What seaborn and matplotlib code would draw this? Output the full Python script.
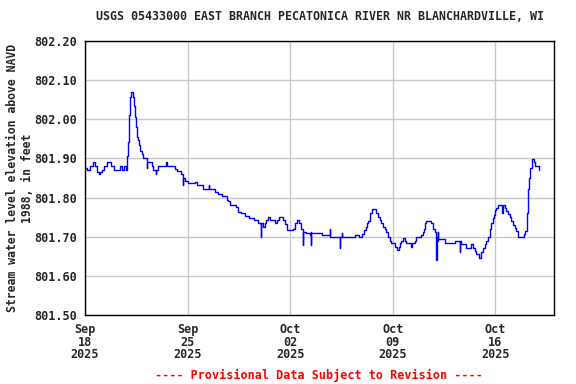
import numpy as np
import pandas as pd
import matplotlib
matplotlib.use("Agg")
import matplotlib.pyplot as plt
import matplotlib.dates as mdates
import seaborn as sns

title = "USGS 05433000 EAST BRANCH PECATONICA RIVER NR BLANCHARDVILLE, WI"
ylabel = "Stream water level elevation above NAVD\n1988, in feet"
footer = "---- Provisional Data Subject to Revision ----"
start_date = "2025-09-18"

# days since start (Sep 18 2025 00:00) and water level (ft)
days = [0.00, 0.11, 0.34, 0.57, 0.68, 0.84, 0.95, 1.05, 1.18, 1.30, 1.52, 1.77,
        2.00, 2.39, 2.55, 2.68, 2.77, 2.84, 2.91, 2.98, 3.05, 3.11, 3.25, 3.32,
        3.39, 3.45, 3.52, 3.59, 3.66, 3.75, 3.86, 3.98, 4.20, 4.22, 4.55, 4.66,
        4.82, 4.84, 5.00, 5.56, 5.58, 6.13, 6.25, 6.54, 6.66, 6.68, 6.81, 7.04,
        7.50, 7.61, 8.02, 8.47, 8.49, 8.86, 9.09, 9.38, 9.66, 9.77, 9.88, 10.29,
        10.45, 10.63, 10.90, 11.20, 11.54, 11.77, 11.99, 12.01, 12.15, 12.27, 12.38, 12.49,
        12.65, 12.95, 13.11, 13.24, 13.52, 13.63, 13.81, 14.20, 14.36, 14.47, 14.61, 14.77,
        14.88, 14.90, 15.11, 15.33, 15.40, 15.42, 15.45, 16.14, 16.70, 16.72, 17.39, 17.41,
        17.54, 17.56, 18.41, 18.70, 18.93, 19.02, 19.16, 19.25, 19.34, 19.43, 19.55, 19.61,
        19.84, 20.00, 20.11, 20.23, 20.34, 20.45, 20.57, 20.68, 20.79, 20.90, 21.13, 21.29,
        21.40, 21.47, 21.59, 21.70, 21.81, 21.93, 22.27, 22.29, 22.50, 22.61, 22.95, 23.06,
        23.13, 23.18, 23.29, 23.63, 23.75, 23.86, 23.97, 23.99, 24.04, 24.09, 24.11, 24.54,
        25.22, 25.58, 25.60, 25.67, 26.01, 26.31, 26.47, 26.58, 26.70, 26.86, 27.04, 27.15,
        27.26, 27.38, 27.49, 27.61, 27.72, 27.83, 27.90, 27.99, 28.06, 28.17, 28.47, 28.49,
        28.63, 28.74, 28.86, 28.97, 29.08, 29.20, 29.31, 29.42, 29.54, 29.92, 30.04, 30.15,
        30.22, 30.29, 30.38, 30.47, 30.61, 30.70, 30.95]
levels = [801.875, 801.870, 801.880, 801.890, 801.880, 801.865, 801.860, 801.865, 801.870, 801.880, 801.890, 801.880,
          801.870, 801.880, 801.870, 801.880, 801.870, 801.906, 801.943, 802.010, 802.057, 802.069, 802.057, 802.035,
          802.007, 801.980, 801.955, 801.947, 801.934, 801.920, 801.911, 801.900, 801.875, 801.890, 801.880, 801.870,
          801.860, 801.870, 801.880, 801.890, 801.880, 801.872, 801.868, 801.860, 801.832, 801.850, 801.842, 801.837,
          801.840, 801.832, 801.822, 801.832, 801.822, 801.815, 801.810, 801.805, 801.795, 801.790, 801.780, 801.775,
          801.764, 801.760, 801.753, 801.748, 801.743, 801.734, 801.700, 801.734, 801.726, 801.734, 801.743, 801.751,
          801.743, 801.734, 801.743, 801.751, 801.743, 801.732, 801.717, 801.720, 801.734, 801.743, 801.734, 801.720,
          801.680, 801.713, 801.710, 801.705, 801.680, 801.713, 801.710, 801.705, 801.720, 801.700, 801.670, 801.700,
          801.710, 801.700, 801.705, 801.700, 801.707, 801.717, 801.726, 801.734, 801.740, 801.760, 801.768, 801.770,
          801.760, 801.751, 801.743, 801.734, 801.726, 801.720, 801.713, 801.700, 801.690, 801.683, 801.674, 801.667,
          801.674, 801.683, 801.690, 801.697, 801.690, 801.683, 801.675, 801.683, 801.690, 801.700, 801.705, 801.713,
          801.720, 801.734, 801.740, 801.734, 801.720, 801.713, 801.640, 801.700, 801.690, 801.713, 801.693, 801.683,
          801.688, 801.662, 801.690, 801.681, 801.672, 801.681, 801.672, 801.663, 801.655, 801.645, 801.660, 801.670,
          801.681, 801.690, 801.700, 801.720, 801.734, 801.747, 801.755, 801.768, 801.773, 801.780, 801.760, 801.780,
          801.773, 801.765, 801.757, 801.750, 801.740, 801.730, 801.723, 801.715, 801.700, 801.707, 801.715, 801.760,
          801.823, 801.849, 801.875, 801.898, 801.890, 801.880, 801.870]

y_ticks = [801.50, 801.60, 801.70, 801.80, 801.90, 802.00, 802.10, 802.20]
x_tick_dates = ["2025-09-18", "2025-09-25", "2025-10-02", "2025-10-09", "2025-10-16"]
x_tick_labels = ["Sep\n18\n2025", "Sep\n25\n2025", "Oct\n02\n2025", "Oct\n09\n2025", "Oct\n16\n2025"]

df = pd.DataFrame({
    "time": pd.Timestamp(start_date) + pd.to_timedelta(days, unit="D"),
    "level": levels,
})

sns.set_style("white")
plt.rcParams["font.family"] = ["DejaVu Sans Mono"]
plt.rcParams["font.weight"] = "bold"

fig = plt.figure(figsize=(5.76, 3.84), dpi=100)
ax = fig.add_axes([85 / 576, 1 - 315 / 384, (554 - 85) / 576, (315 - 41) / 384])

sns.lineplot(data=df, x="time", y="level", ax=ax, color="#0000ff",
             linewidth=1.0, drawstyle="steps-post", estimator=None, sort=False)

ax.set_ylim(801.50, 802.20)
ax.set_xlim(pd.Timestamp("2025-09-18"), pd.Timestamp("2025-10-20"))
ax.set_yticks(y_ticks)
ax.set_yticklabels([f"{v:.2f}" for v in y_ticks])
ax.set_xticks(pd.to_datetime(x_tick_dates))
ax.set_xticklabels(x_tick_labels, linespacing=0.95)

ax.grid(True, color="#c8c8c8", linewidth=1.0)
ax.set_axisbelow(True)
for s in ax.spines.values():
    s.set_color("black")
    s.set_linewidth(1.0)

ax.tick_params(axis="both", length=3, width=1, color="black", labelsize=8.5, pad=3)
for lab in ax.get_xticklabels() + ax.get_yticklabels():
    lab.set_fontweight("bold")

ax.set_xlabel("")
ax.set_ylabel(ylabel, fontsize=8.3, fontweight="bold", labelpad=0, linespacing=1.2)
ax.set_title(title, fontsize=8.4, fontweight="bold", pad=15)

fig.text(319 / 576, 1 - 375 / 384, footer, color="#ff0000", fontsize=8.5,
         fontweight="bold", ha="center", va="center")

fig.savefig("out.png", dpi=100)
